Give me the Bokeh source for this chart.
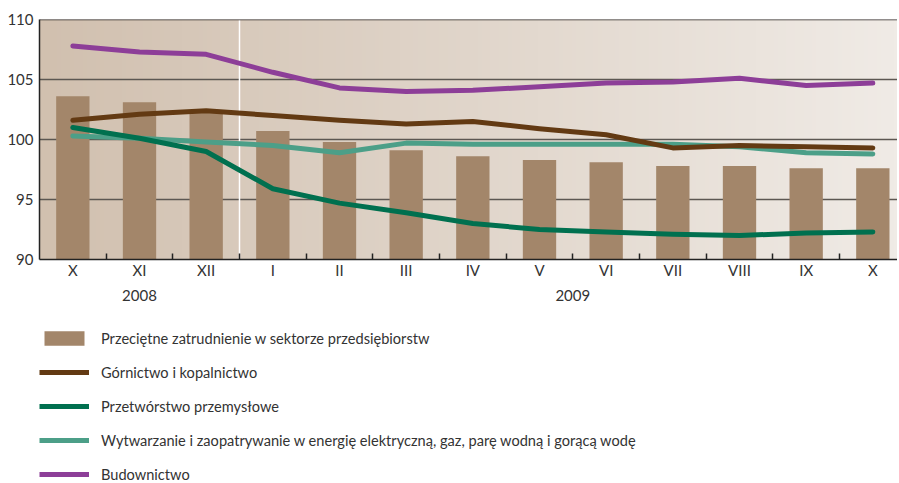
import numpy as np
from bokeh.plotting import figure
from bokeh.layouts import column
from bokeh.models import (ColumnDataSource, FixedTicker, LinearAxis, Range1d, Span,
                          Legend, LegendItem)
from bokeh.embed import file_html
from bokeh.resources import INLINE

months = ["X", "XI", "XII", "I", "II", "III", "IV", "V", "VI", "VII", "VIII", "IX", "X"]
years = ["2008", "2009"]
year_pos = [1, 7.5]

przecietne = [103.6, 103.1, 102.4, 100.7, 99.8, 99.1, 98.6, 98.3, 98.1, 97.8, 97.8, 97.6, 97.6]
gornictwo = [101.6, 102.1, 102.4, 102.0, 101.6, 101.3, 101.5, 100.9, 100.4, 99.3, 99.5, 99.4, 99.3]
przetworstwo = [101.0, 100.1, 99.0, 95.9, 94.7, 93.9, 93.0, 92.5, 92.3, 92.1, 92.0, 92.2, 92.3]
wytwarzanie = [100.3, 100.1, 99.8, 99.5, 98.9, 99.7, 99.6, 99.6, 99.6, 99.6, 99.4, 98.9, 98.8]
budownictwo = [107.8, 107.3, 107.1, 105.6, 104.3, 104.0, 104.1, 104.4, 104.7, 104.8, 105.1, 104.5, 104.7]

labels = ["Przeciętne zatrudnienie w sektorze przedsiębiorstw",
          "Górnictwo i kopalnictwo",
          "Przetwórstwo przemysłowe",
          "Wytwarzanie i zaopatrywanie w energię elektryczną, gaz, parę wodną i gorącą wodę",
          "Budownictwo"]

FONT = "Lato"
TXT = "#333333"
BAR_C = "#a3866a"
COLS = ["#633a13", "#00704f", "#4c9f88", "#8d3e98"]

x = list(range(len(months)))
src = ColumnDataSource(dict(x=x, bar=przecietne, g=gornictwo, p=przetworstwo,
                            w=wytwarzanie, b=budownictwo))

x0, x1 = -0.5, 12.37
p = figure(frame_width=858, frame_height=240, output_backend="svg", toolbar_location=None,
           x_range=Range1d(x0, x1), y_range=Range1d(90, 110),
           min_border_left=39, min_border_right=0, min_border_top=19, min_border_bottom=49)
p.background_fill_color = "white"
p.border_fill_color = "white"
p.outline_line_color = None

# background gradient
n = 200
c0 = np.array([0xd1, 0xc0, 0xaf]); c1 = np.array([0xf0, 0xeb, 0xe6])
t = np.linspace(0, 1, n)
cols = (c0[None, :] * (1 - t[:, None]) + c1[None, :] * t[:, None]).astype(np.uint32)
img = np.empty((1, n), dtype=np.uint32)
img[0, :] = (255 << 24) | (cols[:, 2] << 16) | (cols[:, 1] << 8) | cols[:, 0]
ir = p.image_rgba(image=[img], x=x0, y=90, dw=x1 - x0, dh=20)
ir.level = "image"

# white separator between years
p.add_layout(Span(location=2.5, dimension="height", line_color="white", line_width=1.5,
                  level="underlay"))
p.add_layout(Span(location=110, dimension="width", line_color="#2a2522", line_width=1.5))

p.vbar(x="x", top="bar", bottom=90, width=0.5, source=src, fill_color=BAR_C, line_color=None)
lw = 5
for col, c in [("w", COLS[2]), ("p", COLS[1]), ("g", COLS[0]), ("b", COLS[3])]:
    p.line("x", col, source=src, line_color=c, line_width=lw, line_join="round", line_cap="round")

# grid
p.xgrid.visible = False
p.ygrid.ticker = FixedTicker(ticks=[95, 100, 105])
p.ygrid.grid_line_color = "#5c5752"
p.ygrid.grid_line_width = 1.5

# y axis
p.yaxis.ticker = FixedTicker(ticks=[90, 95, 100, 105, 110])
p.yaxis.major_tick_line_color = None
p.yaxis.minor_tick_line_color = None
p.yaxis.major_tick_out = 0
p.yaxis.minor_tick_out = 0
p.yaxis.axis_line_color = "#222222"
p.yaxis.axis_line_width = 1.5
p.yaxis.major_label_text_font = FONT
p.yaxis.major_label_text_font_size = "15px"
p.yaxis.major_label_text_color = TXT
p.yaxis.major_label_standoff = 6

# x axis
p.xaxis.ticker = FixedTicker(ticks=x, minor_ticks=[i + 0.5 for i in range(12)])
p.xaxis.major_label_overrides = {i: m for i, m in enumerate(months)}
p.xaxis.major_tick_line_color = None
p.xaxis.major_tick_out = 0
p.xaxis.major_tick_in = 0
p.xaxis.minor_tick_in = 6
p.xaxis.minor_tick_out = 0
p.xaxis.minor_tick_line_color = "#222222"
p.xaxis.minor_tick_line_width = 1.5
p.xaxis.axis_line_color = "#222222"
p.xaxis.axis_line_width = 1.5
p.xaxis.major_label_text_font = FONT
p.xaxis.major_label_text_font_size = "15px"
p.xaxis.major_label_text_color = TXT
p.xaxis.major_label_standoff = 1

yax = LinearAxis(ticker=FixedTicker(ticks=year_pos),
                 major_label_overrides={year_pos[i]: years[i] for i in range(2)})
yax.axis_line_color = None
yax.major_tick_line_color = None
yax.minor_tick_line_color = None
yax.major_tick_out = 0
yax.minor_tick_out = 0
yax.major_label_text_font = FONT
yax.major_label_text_font_size = "15px"
yax.major_label_text_color = TXT
yax.major_label_standoff = 8
p.add_layout(yax, "below")

# legend figure (its renderers draw the same data, kept below the visible y range)
lf = figure(width=897, height=175, output_backend="svg", toolbar_location=None,
            x_range=Range1d(x0, x1), y_range=Range1d(200, 201),
            min_border_left=0, min_border_right=0, min_border_top=0, min_border_bottom=0)
lf.axis.visible = False
lf.grid.visible = False
lf.outline_line_color = None
lf.background_fill_color = "white"
lf.border_fill_color = "white"
rb = lf.vbar(x="x", top="bar", bottom=90, width=0.5, source=src, fill_color=BAR_C, line_color=None)
rls = [lf.line("x", col, source=src, line_color=c, line_width=lw, line_cap="butt")
       for col, c in zip(["g", "p", "w", "b"], COLS)]
legend = Legend(items=[LegendItem(label=labels[0], renderers=[rb])] +
                      [LegendItem(label=labels[i + 1], renderers=[rls[i]]) for i in range(4)],
                orientation="vertical", location=(0, 0))
legend.border_line_color = None
legend.background_fill_alpha = 0
legend.glyph_width = 50
legend.glyph_height = 18
legend.spacing = 16
legend.padding = 0
legend.margin = 0
legend.label_text_font = FONT
legend.label_text_font_size = "14.6px"
legend.label_text_color = TXT
legend.label_standoff = 12
legend.label_height = 18
legend.click_policy = "none"
lf.add_layout(legend, "center")

open("out.html", "w").write(file_html(column(p, lf, spacing=0), INLINE))
